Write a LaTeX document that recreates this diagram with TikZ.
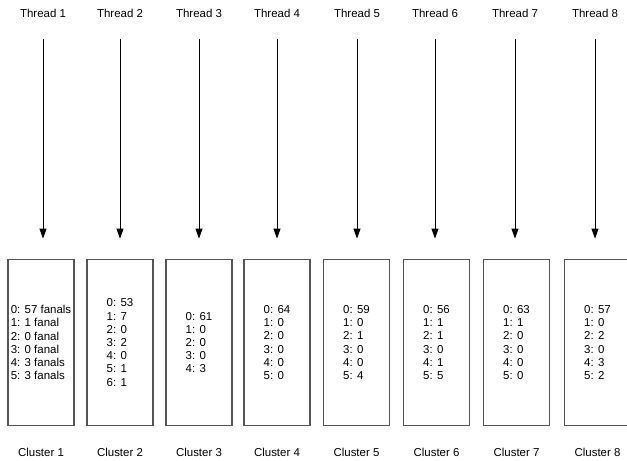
\documentclass[tikz,border=0pt]{standalone}
\usepackage{fontspec}
\setmainfont{Liberation Sans}
\usetikzlibrary{arrows.meta,positioning}
\definecolor{boxgray}{RGB}{85,85,85}

\begin{document}
\begin{tikzpicture}[x=0.75pt,y=-0.75pt,
        lbl/.style={inner sep=0pt,font=\fontsize{8.6}{10}\selectfont},
        clusterbox/.style={rectangle,draw=boxgray,line width=0.8pt,
          minimum width=49.5pt,minimum height=125pt,inner sep=0pt,
          align=left,font=\fontsize{8.6}{9.9}\selectfont},
        flow/.style={-{Triangle[width=5.25pt,length=7.5pt]},line width=0.6pt,
          shorten <=16pt,shorten >=15pt}]
        \clip (0,0) rectangle (627,460);
        \foreach \i/\bx/\ax/\txt in {
            1/41/43/{0: 57 fanals\\1: 1 fanal\\2: 0 fanal\\3: 0 fanal\\4: 3 fanals\\5: 3 fanals},
            2/120/120/{0: 53\\1: 7\\2: 0\\3: 2\\4: 0\\5: 1\\6: 1},
            3/199/199/{0: 61\\1: 0\\2: 0\\3: 0\\4: 3},
            4/277/277/{0: 64\\1: 0\\2: 0\\3: 0\\4: 0\\5: 0},
            5/356.5/357/{0: 59\\1: 0\\2: 1\\3: 0\\4: 0\\5: 4},
            6/436.5/435/{0: 56\\1: 1\\2: 1\\3: 0\\4: 1\\5: 5},
            7/516.5/515/{0: 63\\1: 1\\2: 0\\3: 0\\4: 0\\5: 0},
            8/597.5/595/{0: 57\\1: 0\\2: 2\\3: 0\\4: 3\\5: 2}} {
          \node[clusterbox] (c\i) at (\bx,342.5) {\txt};
          \node[lbl] (t\i) at (\ax,13) {Thread \i};
          \node[lbl,below=19.5pt of c\i.south,anchor=center] (l\i) {Cluster \i};
          \draw[flow] (t\i.south) -- (t\i.south |- c\i.north);
        }
      \end{tikzpicture}
\end{document}
